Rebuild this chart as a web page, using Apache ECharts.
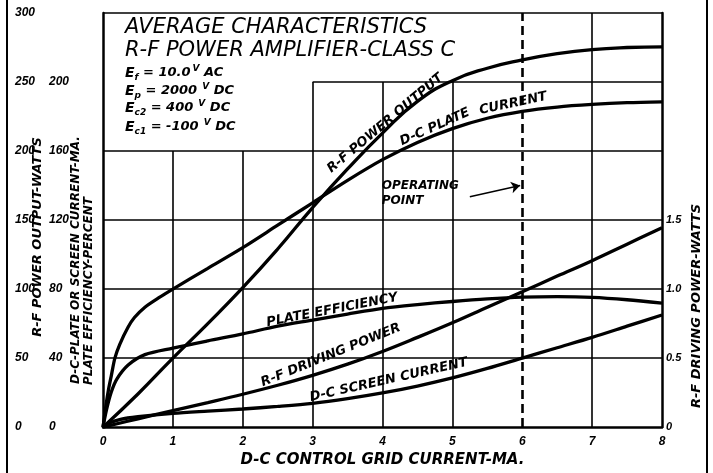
<!DOCTYPE html>
<html><head><meta charset="utf-8">
<script src="https://cdn.jsdelivr.net/npm/echarts@6/dist/echarts.min.js"></script>
<style>html,body{margin:0;padding:0;background:#fff}#c{width:713px;height:473px}</style>
</head><body><div id="c"></div>
<script>
// ---- data (x = D-C control grid current, mA) ----
const xTicks = [0,1,2,3,4,5,6,7,8];
const midTicks = [0,40,80,120,160,200];          // mA / percent
const leftTicks = [0,50,100,150,200,250,300];    // watts
const rightTicks = [0,0.5,1.0,1.5];              // watts

const plateCurrentX  = [0,0.04,0.08,0.12,0.17,0.24,0.36,0.45,0.6,0.8,1,1.5,2,2.5,3,3.5,4,4.5,5,5.5,6,6.5,7,7.5,8];
const plateCurrentMA = [0,12,22,30,40,48,58,63.5,69.5,75,80,92,104,117,130,143,155,165,173,179,183,185.5,187,188,188.5];

const rfOutputX = [0,0.5,1,1.5,2,2.5,3,3.5,4,4.5,5,5.5,6,6.5,7,7.5,8];
const rfOutputW = [0,24,50,75,101,129,159,187,213,236,251,260,266,270.5,273.5,275,275.5];

const efficiencyX   = [0,0.05,0.12,0.2,0.36,0.6,1,1.5,2,2.5,3,3.5,4,4.5,5,5.5,6,6.5,7,7.5,8];
const efficiencyPct = [0,10,20.5,28,36,42,45.8,50,54,58.5,62,65.5,68.8,71,72.8,74.3,75.3,75.6,75.2,73.8,71.8];

const drivingX = [0,0.5,1,1.5,2,2.5,3,3.5,4,4.5,5,5.5,6,6.5,7,7.5,8];
const drivingW = [0,0.06,0.12,0.178,0.238,0.303,0.375,0.456,0.548,0.65,0.756,0.869,0.981,1.094,1.206,1.325,1.444];

const screenX  = [0,0.1,0.25,0.5,1,1.5,2,2.5,3,3.5,4,4.5,5,5.5,6,6.5,7,7.5,8];
const screenMA = [0,2.5,4.5,6,8,9.3,10.5,12,13.8,16.5,19.8,23.8,28.5,34,40,46,52,58.5,65];

// grid lines (data units of x and the mA/percent axis)
const vLineX   = [1,2,3,4,5,7];
const vLineTop = [160,160,200,200,200,240];
const hLineY    = [40,80,120,160,200,240];
const hLineFrom = [0,0,0,0,3,0];
const operatingX = 6;

// curve labels
const curveLabelText = ['R-F POWER OUTPUT','D-C PLATE','CURRENT','PLATE EFFICIENCY','R-F DRIVING POWER','D-C SCREEN CURRENT'];
const curveLabelX    = [4.04,4.75,5.87,3.28,3.26,4.09];
const curveLabelY    = [176,173.9,187.5,67.8,41.7,27.3];
const curveLabelRot  = [40,24,12,11,22,12.7];
const opText = 'OPERATING\nPOINT';
const opTextPos = [3.99,135.2];
const opArrowFrom = [5.25,133.5];
const opArrowTo   = [5.97,140];

const titleLines = ['AVERAGE CHARACTERISTICS','R-F POWER AMPLIFIER-CLASS C'];
const paramLines = [
  '{e|E}{s|f}{t| = 10.0}{v|V}{t| AC}',
  '{e|E}{s|p}{t| = 2000}{v| V}{t| DC}',
  '{e|E}{s|c2}{t| = 400}{v| V}{t| DC}',
  '{e|E}{s|c1}{t| = -100}{v| V}{t| DC}'
];

const zip = (xs, ys) => xs.map((x, i) => [x, ys[i]]);
const LF = '"DejaVu Sans", sans-serif';
const NF = '"Liberation Sans", Arial, sans-serif';

const gridLines = [];
vLineX.forEach((x, i) => gridLines.push([{coord:[x,0]},{coord:[x,vLineTop[i]]}]));
hLineY.forEach((y, i) => gridLines.push([{coord:[hLineFrom[i],y]},{coord:[8,y]}]));
gridLines.push([{coord:[operatingX,0], lineStyle:{type:[9,5], width:2.6}},{coord:[operatingX,240]}]);

const curveStyle = {color:'#000', width:3.3};
const lineSeries = (data, yIdx, sm) => ({
  type:'line', data, yAxisIndex:yIdx, showSymbol:false, symbol:'none',
  smooth:sm, lineStyle:curveStyle, silent:true
});

const labelData = curveLabelText.map((t, i) => ({
  value:[curveLabelX[i], curveLabelY[i]],
  label:{formatter:t, rotate:curveLabelRot[i]}
}));
labelData.push({value:opTextPos, label:{formatter:opText, align:'left', lineHeight:15, fontSize:12}});

const tickLabel = {color:'#000', fontFamily:NF, fontStyle:'italic', fontWeight:'bold', fontSize:12};

const paramRich = {
  e:{fontFamily:LF, fontStyle:'italic', fontWeight:'bold', fontSize:14, color:'#000'},
  t:{fontFamily:LF, fontStyle:'italic', fontWeight:'bold', fontSize:13, color:'#000'},
  s:{fontFamily:LF, fontStyle:'italic', fontWeight:'bold', fontSize:9, color:'#000', padding:[9,0,0,0]},
  v:{fontFamily:LF, fontStyle:'italic', fontWeight:'bold', fontSize:9, color:'#000', padding:[0,0,8,2]}
};

const chart = echarts.init(document.getElementById('c'), null, {renderer:'canvas'});
chart.setOption({
  animation:false,
  backgroundColor:'#fff',
  grid:{left:103, right:51, top:13, bottom:44},
  xAxis:{
    type:'value', min:0, max:8, interval:1,
    axisLine:{show:true, lineStyle:{color:'#000', width:2.5}},
    axisTick:{show:false}, splitLine:{show:false},
    axisLabel:Object.assign({margin:9, formatter:v => xTicks.includes(v) ? String(v) : ''}, tickLabel),
    name:'D-C CONTROL GRID CURRENT-MA.', nameLocation:'middle', nameGap:25,
    nameTextStyle:{color:'#000', fontFamily:LF, fontStyle:'italic', fontWeight:'bold', fontSize:15}
  },
  yAxis:[
    { type:'value', min:0, max:240, interval:40, position:'left',
      axisLine:{show:true, onZero:false, lineStyle:{color:'#000', width:2.5}},
      axisTick:{show:false}, splitLine:{show:false},
      axisLabel:Object.assign({margin:54, align:'left', formatter:v => midTicks.includes(v) ? String(v) : ''}, tickLabel) },
    { type:'value', min:0, max:300, interval:50, position:'left',
      axisLine:{show:false}, axisTick:{show:false}, splitLine:{show:false},
      axisLabel:Object.assign({margin:88, align:'left', formatter:v => leftTicks.includes(v) ? String(v) : ''}, tickLabel) },
    { type:'value', min:0, max:3, interval:0.5, position:'right',
      axisLine:{show:true, onZero:false, lineStyle:{color:'#000', width:2.5}},
      axisTick:{show:false}, splitLine:{show:false},
      axisLabel:Object.assign({}, tickLabel, {margin:4, align:'left', fontSize:11,
        formatter:v => rightTicks.includes(v) ? (v === 0 ? '0' : v.toFixed(1)) : ''}) }
  ],
  series:[
    Object.assign(lineSeries(zip(screenX, screenMA), 0, 0.3), {
      markLine:{silent:true, symbol:'none', label:{show:false}, animation:false,
        lineStyle:{color:'#000', width:1.6, type:'solid'}, data:gridLines}
    }),
    lineSeries(zip(plateCurrentX, plateCurrentMA), 0, 0.3),
    lineSeries(zip(efficiencyX, efficiencyPct), 0, 0.3),
    lineSeries(zip(rfOutputX, rfOutputW), 1, 0.5),
    lineSeries(zip(drivingX, drivingW), 2, 0.4),
    { type:'scatter', yAxisIndex:0, symbolSize:0, silent:true, data:labelData, itemStyle:{opacity:1, color:'#000'},
      label:{show:true, position:'inside', color:'#000', opacity:1, textBorderWidth:0, fontFamily:LF, fontStyle:'italic', fontWeight:'bold', fontSize:13},
      markLine:{silent:true, symbol:['none','arrow'], symbolSize:9, label:{show:false}, animation:false,
        itemStyle:{color:'#000'},
        lineStyle:{color:'#000', width:1.5, type:'solid', curveness:0.2, opacity:1},
        data:[[{coord:opArrowFrom},{coord:opArrowTo}]]}
    }
  ],
  graphic:[
    {type:'line', shape:{x1:7,y1:0,x2:7,y2:473}, style:{stroke:'#000', lineWidth:2}},
    {type:'line', shape:{x1:707,y1:0,x2:707,y2:473}, style:{stroke:'#000', lineWidth:2}},
    {type:'text', x:125, y:28, style:{text:titleLines[0], fill:'#000', font:'italic 21px ' + LF, verticalAlign:'middle'}},
    {type:'text', x:125, y:51, style:{text:titleLines[1], fill:'#000', font:'italic 21px ' + LF, verticalAlign:'middle'}},
    {type:'text', x:125, y:73, style:{text:paramLines[0], rich:paramRich, verticalAlign:'middle'}},
    {type:'text', x:125, y:91, style:{text:paramLines[1], rich:paramRich, verticalAlign:'middle'}},
    {type:'text', x:125, y:108, style:{text:paramLines[2], rich:paramRich, verticalAlign:'middle'}},
    {type:'text', x:125, y:127, style:{text:paramLines[3], rich:paramRich, verticalAlign:'middle'}},
    {type:'text', x:38, y:237, rotation:Math.PI/2, style:{text:'R-F POWER OUTPUT-WATTS', fill:'#000', font:'italic bold 13px ' + LF, align:'center', verticalAlign:'middle'}},
    {type:'text', x:76, y:384, rotation:Math.PI/2, style:{text:'D-C-PLATE OR SCREEN CURRENT-MA.', fill:'#000', font:'italic bold 12px ' + LF, align:'left', verticalAlign:'middle'}},
    {type:'text', x:89, y:385, rotation:Math.PI/2, style:{text:'PLATE EFFICIENCY-PERCENT', fill:'#000', font:'italic bold 12px ' + LF, align:'left', verticalAlign:'middle'}},
    {type:'text', x:697, y:306, rotation:Math.PI/2, style:{text:'R-F DRIVING POWER-WATTS', fill:'#000', font:'italic bold 13px ' + LF, align:'center', verticalAlign:'middle'}}
  ]
});
</script></body></html>
